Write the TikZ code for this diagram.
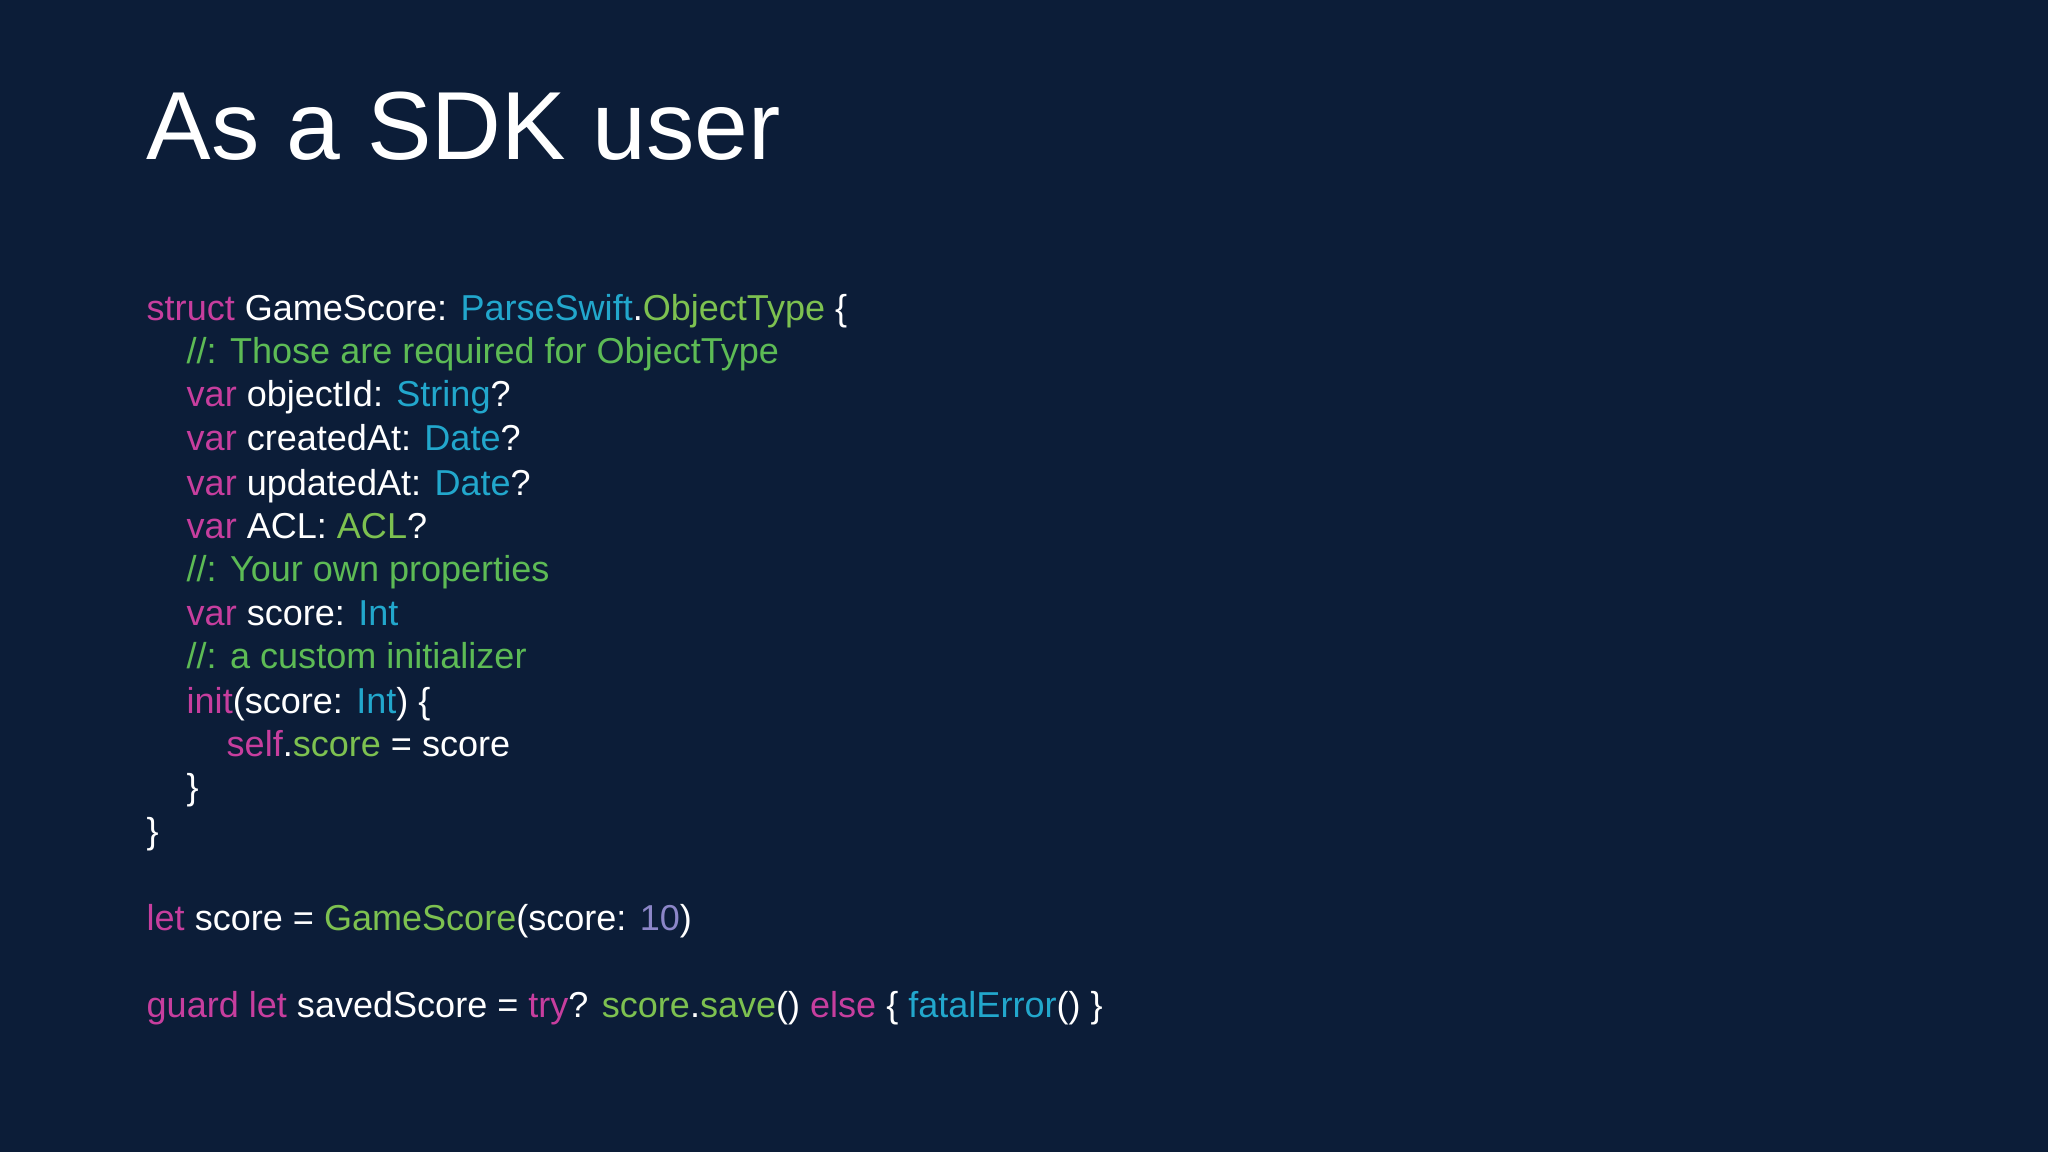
\documentclass[tikz,border=0pt]{standalone}
\usepackage{fontspec}
\setmainfont{Liberation Sans}
\definecolor{bg}{HTML}{0C1D38}
\definecolor{kw}{HTML}{C73E9E}
\definecolor{ty}{HTML}{22A7CC}
\definecolor{gr}{HTML}{7DC150}
\definecolor{cm}{HTML}{5DBB55}
\definecolor{nm}{HTML}{8C86C8}
\newcommand{\K}[1]{\textcolor{kw}{#1}}
\newcommand{\T}[1]{\textcolor{ty}{#1}}
\newcommand{\G}[1]{\textcolor{gr}{#1}}
\newcommand{\C}[1]{\textcolor{cm}{#1}}
\begin{document}
\begin{tikzpicture}[x=0.01cm,y=-0.01cm,
  code/.style={anchor=base west,inner sep=0pt,text=white,font=\fontsize{10.25pt}{12pt}\selectfont}]
\fill[bg] (0,0) rectangle (2048,1152);
\useasboundingbox (0,0) rectangle (2048,1152);
\node[anchor=base west,inner sep=0pt,text=white,font=\fontsize{27.5pt}{32pt}\selectfont] (title) at (146,160) {As a SDK user};
\node[code] (l1) at (146,321) {\K{struct} GameScore: \T{ParseSwift}.\G{ObjectType} \{};
\node[code] (l2) at (186,364) {\C{//: Those are required for ObjectType}};
\node[code] (l3) at (186,407) {\K{var} objectId: \T{String}?};
\node[code] (l4) at (186,451) {\K{var} createdAt: \T{Date}?};
\node[code] (l5) at (186,495) {\K{var} updatedAt: \T{Date}?};
\node[code] (l6) at (186,538) {\K{var} ACL: \G{ACL}?};
\node[code] (l7) at (186,582) {\C{//: Your own properties}};
\node[code] (l8) at (186,625) {\K{var} score: \T{Int}};
\node[code] (l9) at (186,668) {\C{//: a custom initializer}};
\node[code] (l10) at (186,713) {\K{init}(score: \T{Int}) \{};
\node[code] (l11) at (226,756) {\K{self}.\G{score} = score};
\node[code] (l12) at (186,799) {\}};
\node[code] (l13) at (146,843) {\}};
\node[code] (l14) at (146,930) {\K{let} score = \G{GameScore}(score: \textcolor{nm}{10})};
\node[code] (l15) at (146,1017) {\K{guard let} savedScore = \K{try}? \G{score}.\G{save}() \K{else} \{ \T{fatalError}() \}};
\end{tikzpicture}
\end{document}
